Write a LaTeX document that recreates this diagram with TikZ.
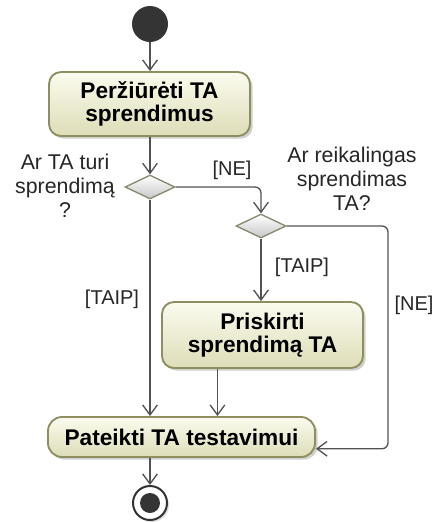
\documentclass[tikz,border=0pt]{standalone}
\usepackage{fontspec}
\setmainfont{Liberation Sans}
\usetikzlibrary{arrows.meta,shapes.geometric,shadows}

\definecolor{actfillA}{RGB}{251,251,238}
\definecolor{actfillB}{RGB}{221,221,184}
\definecolor{actline}{RGB}{142,142,96}
\definecolor{decline}{RGB}{136,136,110}
\definecolor{flowline}{RGB}{82,82,82}
\definecolor{dotfill}{RGB}{52,52,52}

\begin{document}
\begin{tikzpicture}[x=0.75pt,y=-0.75pt,
  action/.style={draw=actline, line width=1.4pt, rounded corners=9pt,
    top color=actfillA, bottom color=actfillB,
    drop shadow={shadow xshift=2pt, shadow yshift=-2pt, fill=black!30, opacity=0.6},
    align=center, inner sep=0pt,
    font=\fontsize{17}{17.5}\selectfont\bfseries},
  decision/.style={diamond, draw=decline, line width=1pt,
    top color=white, bottom color=black!22,
    minimum width=37.5pt, minimum height=18pt, inner sep=0pt},
  question/.style={align=center, inner sep=0pt,
    font=\fontsize{16}{18}\selectfont, text=black!85},
  guard/.style={inner sep=0pt, font=\fontsize{15}{17}\selectfont, text=black!85},
  startnode/.style={circle, fill=dotfill, minimum size=27pt, inner sep=0pt},
  endnode/.style={circle, draw=black!80, line width=1.5pt, fill=white,
    minimum size=25.5pt, inner sep=0pt,
    drop shadow={shadow xshift=1.5pt, shadow yshift=-1.5pt, fill=black!25, opacity=0.5},
    path picture={\fill[dotfill] (path picture bounding box.center) circle (7.5pt);}},
  flow/.style={draw=flowline, line width=1pt,
    -{Straight Barb[length=7.5pt,width=11pt,line width=1pt]}}
]
\useasboundingbox (0,0) rectangle (435,522);
\fill[white] (0,0) rectangle (435,522);

% activities and control nodes
\node[startnode] (start) at (150,24) {};
\node[action, minimum width=150.75pt, minimum height=48pt] (review) at (149.5,104)
  {Peržiūrėti TA\\sprendimus};
\node[decision] (hasSol) at (150,187) {};
\node[decision] (needSol) at (261,226) {};
\node[action, minimum width=150.75pt, minimum height=49.5pt] (assign) at (262.5,335)
  {Priskirti\\sprendimą TA};
\node[action, minimum width=200.25pt, minimum height=30pt, rounded corners=10.5pt]
  (submit) at (181.5,437) {Pateikti TA testavimui};
\node[endnode] (end) at (150,503) {};

% questions and guards
\node[question] (q1) at (65,186) {Ar TA turi\\sprendimą\\?};
\node[question] (q2) at (352,179) {Ar reikalingas\\sprendimas\\TA?};
\node[guard] (ne1) at (232,170) {[NE]};
\node[guard] (taip1) at (112,299) {[TAIP]};
\node[guard] (taip2) at (302,267) {[TAIP]};
\node[guard] (ne2) at (414,305) {[NE]};

% control flows
\coordinate (bypass) at (388,300);
\draw[flow] (start) -- (start |- review.north);
\draw[flow] (review.south -| hasSol) -- (hasSol.north);
\draw[flow, rounded corners=4.5pt] (hasSol.east) -| (needSol.north);
\draw[flow] (needSol.south) -- (needSol.south |- assign.north);
\draw[flow, rounded corners=4.5pt] (needSol.east) -| (bypass |- submit.-5) -- (submit.-5);
\draw[flow] (hasSol.south) -- (hasSol.south |- submit.north);
\draw[flow] (assign.217) -- (assign.217 |- submit.north);
\draw[flow] (submit.south -| end) -- (end.north);
\end{tikzpicture}
\end{document}
